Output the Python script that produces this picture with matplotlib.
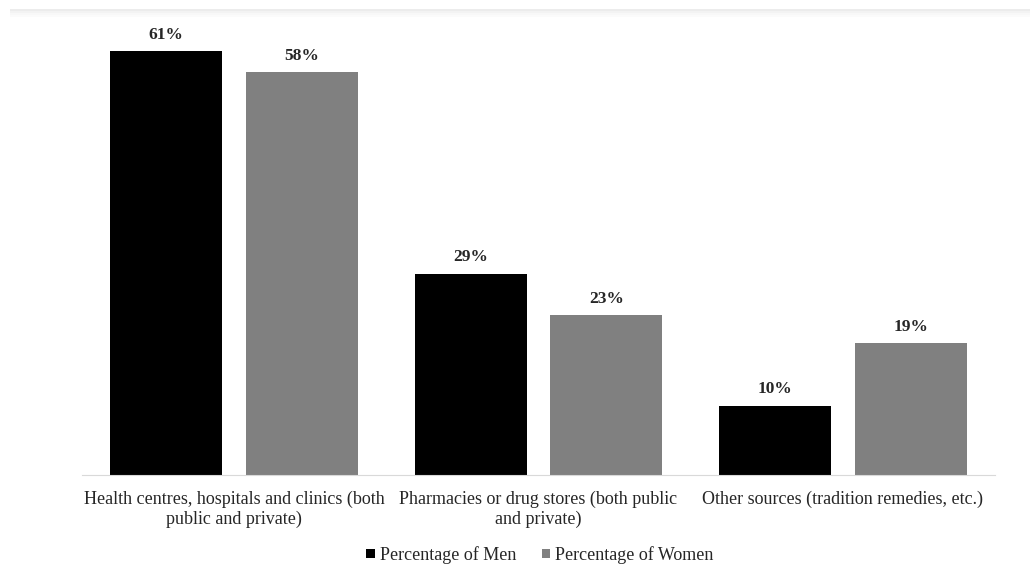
import numpy as np
import matplotlib.pyplot as plt
from matplotlib.patches import Rectangle

# Sources of treatment by sex (%)
categories = ['Health centres, hospitals and clinics (both\npublic and private)',
              'Pharmacies or drug stores (both public\nand private)',
              'Other sources (tradition remedies, etc.)']
men = [61, 29, 10]
women = [58, 23, 19]

plt.rcParams['font.family'] = ['Liberation Serif', 'DejaVu Serif']

fig = plt.figure(figsize=(10.32, 5.66), dpi=100)
ax = fig.add_axes([82/1032, 1 - 475/566, (995 - 82)/1032, (475 - 20)/566])

x = np.arange(len(categories))
w = 0.368
off = 0.223

b1 = ax.bar(x - off, men, w, color='#000000', label='Percentage of Men')
b2 = ax.bar(x + off, women, w, color='#808080', label='Percentage of Women')

for bars, vals in ((b1, men), (b2, women)):
    for b, v in zip(bars, vals):
        ax.text(b.get_x() + b.get_width()/2, v + 1.2, '%d%%' % v,
                ha='center', va='bottom', fontsize=12.5, fontweight='bold',
                color='#262626')

ax.set_xlim(-0.5, 2.5)
ax.set_ylim(0, 65.5)
ax.set_xticks(x)
ax.set_xticklabels(categories, fontsize=13, color='#262626', linespacing=1.25)
ax.tick_params(axis='x', length=0, pad=11)
ax.set_yticks([])
for s in ('top', 'right', 'left'):
    ax.spines[s].set_visible(False)
ax.spines['bottom'].set_color('#d9d9d9')

leg = fig.legend(loc='center', bbox_to_anchor=(540/1032, 1 - 555/566), ncol=2,
                 frameon=False, fontsize=13, handlelength=0.45, handleheight=0.45,
                 handletextpad=0.3, columnspacing=1.4)
for t in leg.get_texts():
    t.set_color('#262626')

# faint shadow along the top edge
for i, c in enumerate(['#ececec', '#f3f3f3', '#f8f8f8', '#fbfbfb']):
    fig.patches.append(Rectangle((10/1032, 1 - (11 + 2*i)/566), 1020/1032, 2/566,
                                 transform=fig.transFigure, color=c, lw=0))

fig.savefig('out.png', dpi=100)
